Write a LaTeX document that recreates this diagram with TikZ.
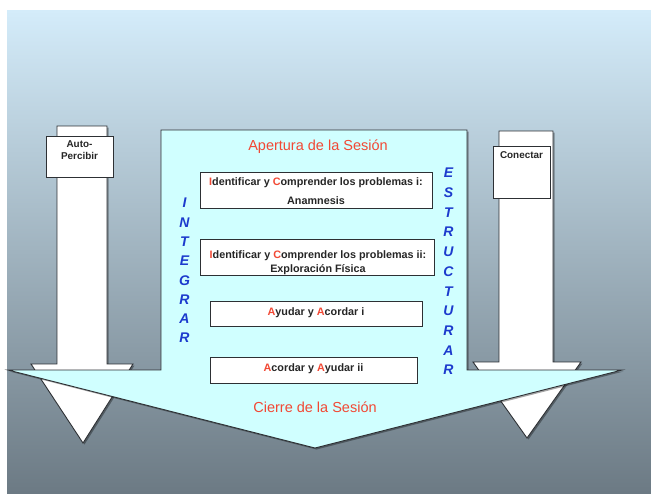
\documentclass[tikz,border=0pt]{standalone}
\usepackage{fontspec}
\setmainfont{Liberation Sans}
\usetikzlibrary{shadows}
\definecolor{bgtop}{RGB}{212,236,250}
\definecolor{bgbot}{RGB}{108,122,132}
\definecolor{cyanfill}{RGB}{208,255,255}
\definecolor{redtxt}{RGB}{242,72,52}
\definecolor{bluetxt}{RGB}{28,58,205}
\definecolor{edgecol}{RGB}{45,48,52}
\newcommand{\rl}[1]{\textcolor{redtxt}{#1}}
\tikzset{
  shape line/.style={draw=edgecol, line width=0.9pt, line join=miter},
  whitearrow/.style={shape line, fill=white, drop shadow={shadow xshift=1.5pt, shadow yshift=-1.5pt, fill=black, opacity=0.35}},
  bigarrow/.style={shape line, fill=cyanfill, drop shadow={shadow xshift=1.5pt, shadow yshift=-1.5pt, fill=black, opacity=0.35}},
  stepbox/.style={draw=edgecol, line width=0.9pt, fill=white, inner sep=0pt,
    drop shadow={shadow xshift=1.2pt, shadow yshift=-1.2pt, fill=black, opacity=0.4}},
  boxtext/.style={font=\fontsize{10.8}{12}\selectfont\bfseries, text=black!85, align=center, inner sep=0pt},
  sidetext/.style={font=\fontsize{9.9}{12}\selectfont\bfseries, text=black!85, align=center, inner sep=0pt},
  phase/.style={font=\fontsize{14.5}{17}\selectfont, text=redtxt, inner sep=0pt},
  vletter/.style={font=\fontsize{14}{16}\selectfont\bfseries\itshape, text=bluetxt, inner sep=0pt}
}
\begin{document}
\begin{tikzpicture}[x=1pt,y=-1pt]
\useasboundingbox (0,0) rectangle (651,493);
\shade[top color=bgtop, bottom color=bgbot] (7,10) rectangle (651,493);

% white arrows
\draw[whitearrow] (57,126) -- (107,126) -- (107,364) -- (133,364) -- (83,443) -- (31,364) -- (57,364) -- cycle;
\draw[whitearrow] (499,131) -- (553,131) -- (553,362) -- (581,362) -- (527,438) -- (473,362) -- (499,362) -- cycle;

% big cyan arrow
\draw[bigarrow] (161,130) -- (467,130) -- (467,370) -- (622,370) -- (315,448) -- (8,370) -- (161,370) -- cycle;

% side label boxes
\node[stepbox, minimum width=67pt, minimum height=41pt] (auto) at (79.5,156.5) {};
\node[sidetext, anchor=north] (autot) at (79.5,140.5) {Auto-\\Percibir};
\node[stepbox, minimum width=57pt, minimum height=52pt] (conectar) at (521.5,172) {};
\node[sidetext, anchor=north] (conectart) at (521.5,151) {Conectar};

% phases
\node[phase] (apertura) at (318,147) {Apertura de la Sesión};
\node[phase] (cierre) at (315,407) {Cierre de la Sesión};

% step boxes
\node[stepbox, minimum width=232pt, minimum height=36pt] (b1) at (316,190) {};
\node[boxtext] (b1a) at (316,183) {\rl{I}dentificar y \rl{C}omprender los problemas i:};
\node[boxtext] (b1b) at (316,201) {Anamnesis};

\node[stepbox, minimum width=234pt, minimum height=36pt] (b2) at (317,257) {};
\node[boxtext] (b2a) at (318,256) {\rl{I}dentificar y \rl{C}omprender los problemas ii:};
\node[boxtext] (b2b) at (318,269.5) {Exploración Física};

\node[stepbox, minimum width=212pt, minimum height=25pt] (b3) at (316,313.5) {};
\node[boxtext] (b3a) at (316,313) {\rl{A}yudar y \rl{A}cordar i};

\node[stepbox, minimum width=207pt, minimum height=26pt] (b4) at (313.5,370) {};
\node[boxtext] (b4a) at (313.5,369) {\rl{A}cordar y \rl{A}yudar ii};

% vertical words
\foreach \l [count=\i] in {I,N,T,E,G,R,A,R}
  \node[vletter] (int\i) at (184.5,{203+(\i-1)*19.3}) {\l};
\foreach \l [count=\i] in {E,S,T,R,U,C,T,U,R,A,R}
  \node[vletter] (est\i) at (448.5,{173+(\i-1)*19.7}) {\l};
\end{tikzpicture}
\end{document}
